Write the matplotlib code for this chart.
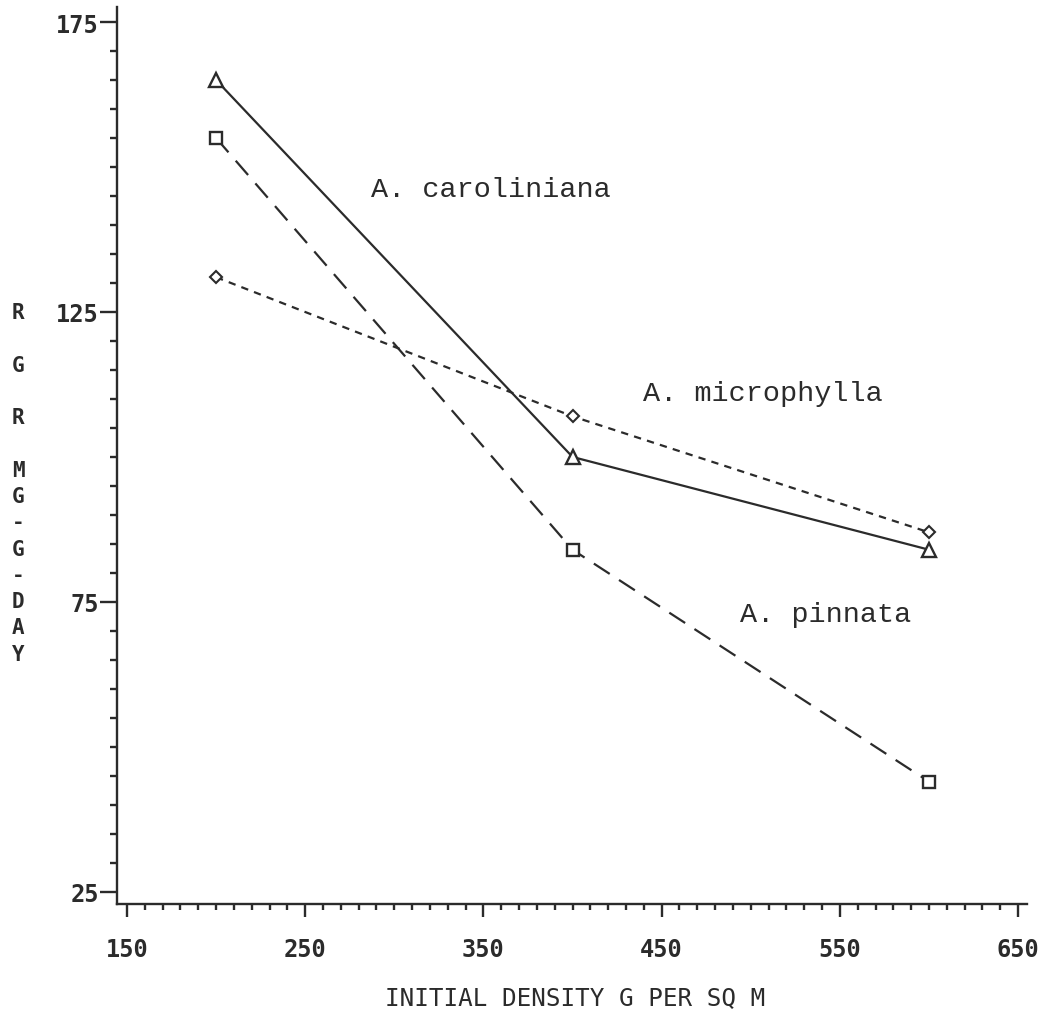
import matplotlib
matplotlib.use("Agg")
import matplotlib.pyplot as plt
from matplotlib.ticker import MultipleLocator

# initial density (g per sq m)
density = [200, 400, 600]

# RGR mg/g/day
caroliniana = [165, 100, 84]
pinnata = [155, 84, 44]
microphylla = [131, 107, 87]

ink = '#2b2b2b'
tick_font = 'DejaVu Sans Mono'
note_font = 'Liberation Mono'

fig = plt.figure(figsize=(10.48, 10.12), dpi=100)
ax = fig.add_axes([117/1048, 1-905/1012, 910/1048, 897/1012])

ax.plot(density, caroliniana, color=ink, lw=1.6, ls='-',
        marker='^', ms=10, mfc='white', mec=ink, mew=1.7)
ax.plot(density, pinnata, color=ink, lw=1.6, ls=(0, (8.5, 5)),
        marker='s', ms=9, mfc='white', mec=ink, mew=1.7)
ax.plot(density, microphylla, color=ink, lw=1.6, ls=(0, (3.3, 2.8)),
        marker='D', ms=6.5, mfc='white', mec=ink, mew=1.5)

ax.text(354, 146.2, 'A. caroliniana', family=note_font, fontsize=20.5,
        color=ink, ha='center', va='center')
ax.text(507, 111, 'A. microphylla', family=note_font, fontsize=20.5,
        color=ink, ha='center', va='center')
ax.text(542, 73, 'A. pinnata', family=note_font, fontsize=20.5,
        color=ink, ha='center', va='center')

ax.set_xlim(144.4, 655)
ax.set_ylim(22.9, 177.6)

for s in ['top', 'right']:
    ax.spines[s].set_visible(False)
for s in ['left', 'bottom']:
    ax.spines[s].set_linewidth(1.7)
    ax.spines[s].set_color(ink)

ax.set_xticks([150, 250, 350, 450, 550, 650])
ax.xaxis.set_minor_locator(MultipleLocator(10))
ax.set_yticks([25, 75, 125, 175])
ax.yaxis.set_minor_locator(MultipleLocator(5))

ax.tick_params(axis='x', which='major', direction='out', length=9, width=1.7,
               color=ink, pad=15, labelsize=17, labelcolor=ink)
ax.tick_params(axis='x', which='minor', direction='out', length=4, width=1.7, color=ink)
ax.tick_params(axis='y', which='major', direction='out', length=12, width=1.7,
               color=ink, pad=1, labelsize=17, labelcolor=ink)
ax.tick_params(axis='y', which='minor', direction='out', length=5, width=1.7, color=ink)
for lab in ax.get_xticklabels() + ax.get_yticklabels():
    lab.set_family(tick_font)
    lab.set_fontweight('bold')

# x axis title, placed on the figure so it sits low like the original
fig.text(575/1048, 1-998/1012, 'INITIAL DENSITY G PER SQ M', family=tick_font,
         fontsize=17.5, color=ink, ha='center', va='center')

fig.text(18/1048, 1-484/1012, 'R\n\nG\n\nR\n\nM\nG\n-\nG\n-\nD\nA\nY',
         family=tick_font, fontsize=15, fontweight='bold', color=ink,
         ha='center', va='center', multialignment='center', linespacing=1.39)

fig.savefig('out.png', dpi=100)
